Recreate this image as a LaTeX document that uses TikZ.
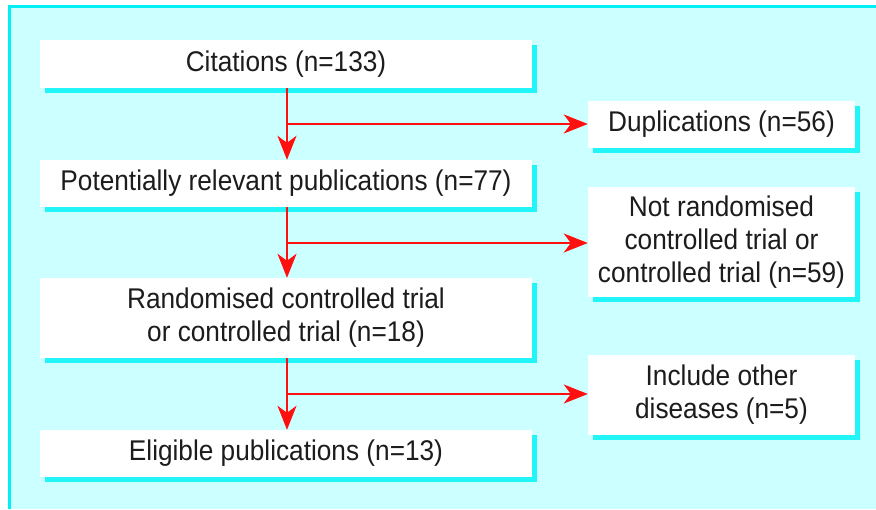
\documentclass[tikz,border=0pt]{standalone}
\usepackage{fontspec}
\setmainfont{Liberation Sans}[FakeStretch=0.92]
\usetikzlibrary{arrows.meta,shadows}
\definecolor{bgc}{HTML}{CCFFFF}
\definecolor{shc}{HTML}{22F5F8}
\definecolor{framec}{HTML}{00F0F8}
\definecolor{arrc}{HTML}{FF1010}
\definecolor{txtc}{HTML}{1C1C1C}
\tikzset{
  boxnode/.style={fill=white, draw=none, inner sep=0pt, align=center,
    text=txtc, font=\fontsize{28.5}{33}\selectfont,
    general shadow={fill=shc, shadow xshift=5pt, shadow yshift=-5pt}},
  flowarrow/.style={draw=arrc, line width=2.4pt,
    -{Stealth[length=24pt,width=19pt,inset=7pt]}},
  flowline/.style={draw=arrc, line width=2.4pt}
}
\begin{document}
\begin{tikzpicture}[x=1pt,y=-1pt]
\useasboundingbox (0,0) rectangle (876,509);
\fill[bgc] (9,6.5) rectangle (876,509);
\draw[framec, line width=3pt] (9,509) -- (9,6.5) -- (876,6.5);
% main column
\node[boxnode, minimum width=492pt, minimum height=48pt] (b1) at (286,64) {Citations (n=133)};
\node[boxnode, minimum width=492pt, minimum height=47pt] (b2) at (286,183.5) {Potentially relevant publications (n=77)};
\node[boxnode, minimum width=492pt, minimum height=80pt] (b3) at (286,318) {Randomised controlled trial\\or controlled trial (n=18)};
\node[boxnode, minimum width=492pt, minimum height=47pt] (b4) at (286,453.5) {Eligible publications (n=13)};
% side column
\node[boxnode, minimum width=267pt, minimum height=47pt] (s1) at (721.5,124.5) {Duplications (n=56)};
\node[boxnode, minimum width=267pt, minimum height=110pt] (s2) at (721.5,242) {Not randomised\\controlled trial or\\controlled trial (n=59)};
\node[boxnode, minimum width=267pt, minimum height=80pt] (s3) at (721.5,395) {Include other\\diseases (n=5)};
% branch points
\coordinate (j1) at (287,124);
\coordinate (j2) at (287,243);
\coordinate (j3) at (287,394);
% connectors
\draw[flowarrow] (b1.south -| j1) -- (b2.north -| j1);
\draw[flowarrow] (b2.south -| j2) -- (b3.north -| j2);
\draw[flowarrow] (b3.south -| j3) -- (b4.north -| j3);
\draw[flowarrow] (j1) -- (j1 -| s1.west);
\draw[flowarrow] (j2) -- (j2 -| s2.west);
\draw[flowarrow] (j3) -- (j3 -| s3.west);
\end{tikzpicture}
\end{document}
